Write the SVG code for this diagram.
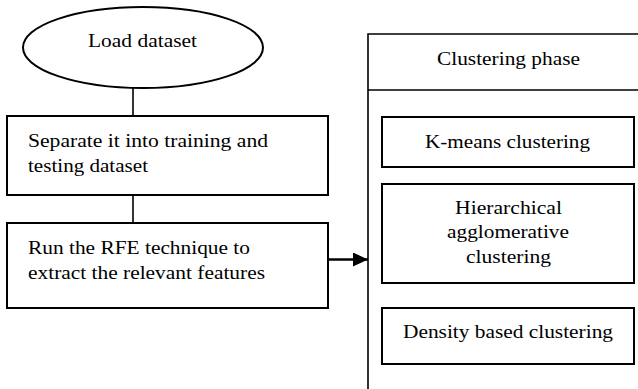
<svg xmlns="http://www.w3.org/2000/svg" width="638" height="389" viewBox="0 0 638 389">
<style>
.s{fill:#fff;stroke:#000;stroke-width:2}
.c{fill:none;stroke:#000;stroke-width:1.6}
text{font-family:"Liberation Serif","Times New Roman",serif;font-size:19.5px;fill:#000}
</style>
<defs>
<marker id="ah" markerWidth="15" markerHeight="14" refX="15" refY="7" orient="auto" markerUnits="userSpaceOnUse">
<path d="M0,0 L15,7 L0,14 Z" fill="#000"/>
</marker>
</defs>
<rect width="638" height="389" fill="#fff"/>
<g id="connectors">
<path class="c" d="M133,88 V116"/>
<path class="c" d="M133,195 V223"/>
<path d="M328,259.5 H368" fill="none" stroke="#000" stroke-width="2.4" marker-end="url(#ah)"/>
</g>
<g id="load">
<ellipse class="s" cx="143" cy="47.5" rx="120" ry="40.5"/>
<text x="88" y="47" textLength="109" lengthAdjust="spacingAndGlyphs">Load dataset</text>
</g>
<g id="separate">
<rect class="s" x="7" y="116" width="321" height="79"/>
<text x="28" y="147" textLength="240" lengthAdjust="spacingAndGlyphs">Separate it into training and</text>
<text x="28" y="172" textLength="120" lengthAdjust="spacingAndGlyphs">testing dataset</text>
</g>
<g id="rfe">
<rect class="s" x="7" y="223" width="321" height="85"/>
<text x="28" y="254" textLength="222" lengthAdjust="spacingAndGlyphs">Run the RFE technique to</text>
<text x="28" y="279" textLength="237" lengthAdjust="spacingAndGlyphs">extract the relevant features</text>
</g>
<g id="clustering-phase">
<path class="c" d="M368,389 V34 H640 M368,90 H640" stroke-width="2"/>
<text x="437" y="65" textLength="143" lengthAdjust="spacingAndGlyphs">Clustering phase</text>
</g>
<g id="kmeans">
<rect class="s" x="382" y="117" width="252" height="50"/>
<text x="425" y="148" textLength="165" lengthAdjust="spacingAndGlyphs">K-means clustering</text>
</g>
<g id="hierarchical">
<rect class="s" x="382" y="184" width="252" height="99"/>
<text x="455" y="214" textLength="107" lengthAdjust="spacingAndGlyphs">Hierarchical</text>
<text x="447" y="238" textLength="122" lengthAdjust="spacingAndGlyphs">agglomerative</text>
<text x="466" y="263" textLength="85" lengthAdjust="spacingAndGlyphs">clustering</text>
</g>
<g id="density">
<rect class="s" x="382" y="308" width="252" height="56"/>
<text x="403" y="338" textLength="210" lengthAdjust="spacingAndGlyphs">Density based clustering</text>
</g>
</svg>
